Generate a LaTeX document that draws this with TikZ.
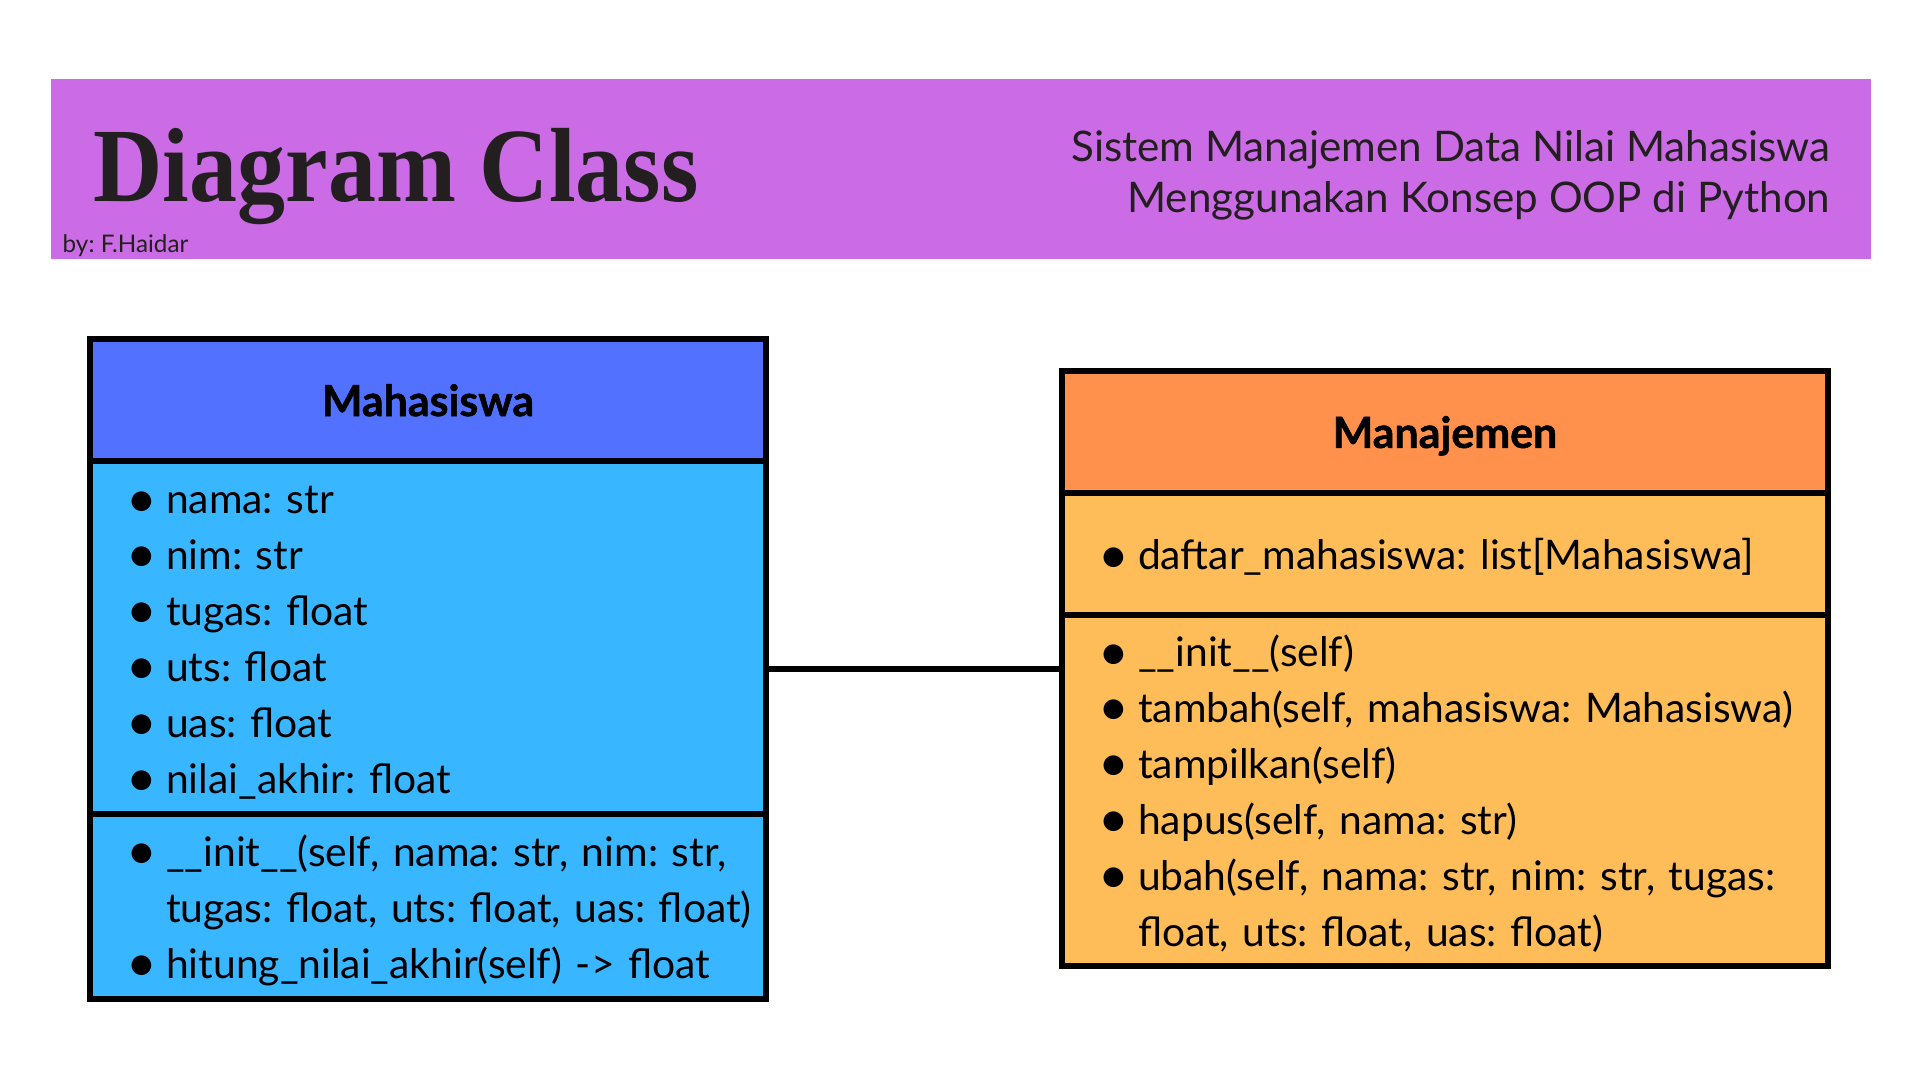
\documentclass[tikz,border=0pt]{standalone}
\usepackage{fontspec}
\setmainfont{Lato}
\newfontfamily\titlefont[FakeStretch=0.91]{Liberation Serif}
\newfontfamily\headfont{Lato}[BoldFeatures={FakeBold=1.2}]
\usepackage{xcolor}
\usetikzlibrary{positioning,fit}
\definecolor{bannerPurple}{HTML}{CB6CE6}
\definecolor{mhsHead}{HTML}{5271FF}
\definecolor{mhsBody}{HTML}{38B6FF}
\definecolor{mnjHead}{HTML}{FF914D}
\definecolor{mnjBody}{HTML}{FFBD59}
\definecolor{inkDark}{HTML}{231F20}
\setlength{\parindent}{0pt}
\frenchspacing
\tikzset{
  cls/part/.style={draw, line width=1.7pt, outer sep=0pt, inner xsep=0pt, inner ysep=0pt,
    text width=#1, align=left, font=\fontsize{11.6pt}{15.9pt}\selectfont},
  cls/head/.style={cls/part=#1, align=center, text depth=0pt,
    font=\headfont\fontsize{12.2pt}{15pt}\selectfont\bfseries},
  cls/link/.style={line width=1.8pt},
  banner/title/.style={inner sep=0pt, text=inkDark, font=\titlefont\fontsize{30pt}{32pt}\selectfont\bfseries},
  banner/sub/.style={inner sep=0pt, text=inkDark, align=right, font=\fontsize{12pt}{14.5pt}\selectfont},
  banner/by/.style={inner sep=0pt, text=inkDark, font=\fontsize{6.9pt}{8pt}\selectfont}
}
% bulleted member list inside a compartment
\newcommand{\members}[1]{\begin{tabular}{@{\hspace{3.67mm}}c@{\hspace{0.9mm}}l@{}}\noalign{\vspace{1mm}}#1\end{tabular}}
\newcommand{\dotmark}{\raisebox{-0.9pt}{\scalebox{1.3}{\textbullet}}}

\begin{document}
\begin{tikzpicture}
  \useasboundingbox[fill=white] (0,0) rectangle (19.2,-10.8);
  % header banner
  \node[fill=bannerPurple, minimum width=18.2cm, minimum height=1.8cm, inner sep=0pt,
    anchor=north west] (banner) at (0.50,-0.78) {};
  \node[banner/title, anchor=base west] (title) at (0.93,-2.02) {Diagram Class};
  \node[banner/by, anchor=base west] (author) at (0.62,-2.53) {by: F.Haidar};
  \node[banner/sub, anchor=east] (subtitle) at (18.31,-1.75)
    {Sistem Manajemen Data Nilai Mahasiswa\\Menggunakan Konsep OOP di Python};

  % class Mahasiswa
  \node[cls/head=6.766cm, fill=mhsHead, minimum height=1.222cm, anchor=north west]
    (mhshead) at (0.897,-3.39) {Mahasiswa};
  \node[cls/part=6.766cm, fill=mhsBody, minimum height=3.525cm, below=0pt of mhshead] (mhsattr)
    {\members{\dotmark & nama: str\\
              \dotmark & nim: str\\
              \dotmark & tugas: float\\
              \dotmark & uts: float\\
              \dotmark & uas: float\\
              \dotmark & nilai\_akhir: float}};
  \node[cls/part=6.766cm, fill=mhsBody, minimum height=1.85cm, below=0pt of mhsattr] (mhsmeth)
    {\members{\dotmark & \_\_init\_\_(self, nama: str, nim: str,\\
                       & tugas: float, uts: float, uas: float)\\
              \dotmark & hitung\_nilai\_akhir(self) -{}> float}};

  % class Manajemen
  \node[cls/head=7.666cm, fill=mnjHead, minimum height=1.216cm, anchor=north west]
    (mnjhead) at (10.617,-3.712) {Manajemen};
  \node[cls/part=7.666cm, fill=mnjBody, minimum height=1.219cm, below=0pt of mnjhead] (mnjattr)
    {\members{\dotmark & daftar\_mahasiswa: list[Mahasiswa]}};
  \node[cls/part=7.666cm, fill=mnjBody, minimum height=3.515cm, below=0pt of mnjattr] (mnjmeth)
    {\members{\dotmark & \_\_init\_\_(self)\\
              \dotmark & tambah(self, mahasiswa: Mahasiswa)\\
              \dotmark & tampilkan(self)\\
              \dotmark & hapus(self, nama: str)\\
              \dotmark & ubah(self, nama: str, nim: str, tugas:\\
                       & float, uts: float, uas: float)}};
  \node[fit=(mnjhead)(mnjmeth), inner sep=0pt] (mnj) {};

  % association
  \draw[cls/link] (mnj.west) -- (mnj.west -| mhsattr.east);
\end{tikzpicture}
\end{document}
